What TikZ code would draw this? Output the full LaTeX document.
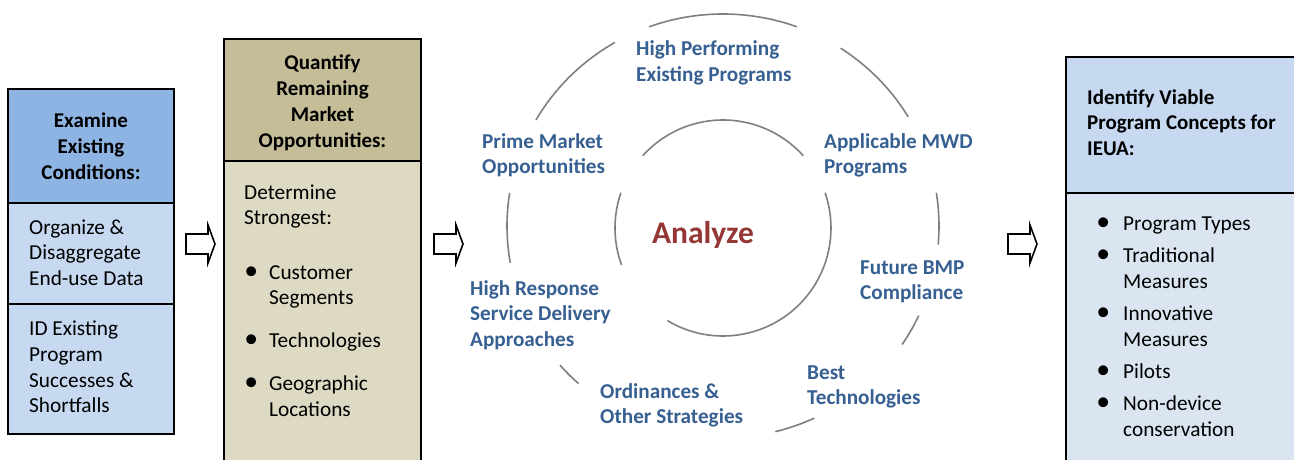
\documentclass[tikz,border=0pt]{standalone}
\usepackage{fontspec}
\setmainfont{Carlito}

\definecolor{hdblue}{HTML}{8DB4E2}
\definecolor{rowblue}{HTML}{C6D9F1}
\definecolor{paleblue}{HTML}{DBE5F1}
\definecolor{hdtan}{HTML}{C4BD97}
\definecolor{bodytan}{HTML}{DDD9C3}
\definecolor{labelblue}{HTML}{376092}
\definecolor{analyzered}{HTML}{953735}
\definecolor{ringgray}{HTML}{7F7F7F}

% stacked lines with a fixed baseline pitch; the node's baseline is the first line's
\newcommand\rows[2][l]{\begin{tabular}[t]{@{}#1@{}}#2\end{tabular}}
\newcommand\bul{\makebox[12pt]{\scalebox{1.3}{\textbullet}}}

\tikzset{
  panel/.style={draw=black, line width=2pt},
  txt/.style={inner sep=0pt, anchor=base west, font=\fontsize{21.3}{25.8}\selectfont},
  ctxt/.style={txt, anchor=base},
  head/.style={font=\fontsize{21}{25.8}\selectfont\bfseries},
  ringlabel/.style={txt, text=labelblue, font=\fontsize{21.2}{25.8}\selectfont\bfseries},
  ring/.style={draw=ringgray, line width=1.6pt},
  arrowshape/.style={draw=black, line width=1.6pt, fill=white, line join=miter},
}

% hollow block arrow; #1 is the middle of its left end
\newcommand\blockarrow[1]{%
  \draw[arrowshape] (#1) ++(0,-10) -- ++(22,0) -- ++(0,-9) -- ++(7,19)
    -- ++(-7,19) -- ++(0,-9) -- ++(-22,0) -- cycle;}

\begin{document}
\begin{tikzpicture}[x=1pt, y=-1pt]
\useasboundingbox (0,0) rectangle (1294,460);
\clip (0,0) rectangle (1294,460);
\fill[white] (0,0) rectangle (1294,460);

% ---- Examine existing conditions ----
\fill[hdblue] (8,89) rectangle (174,203);
\fill[rowblue] (8,203) rectangle (174,434);
\draw[panel] (8,89) rectangle (174,434);
\draw[panel] (8,203) -- (174,203);
\draw[panel] (8,304) -- (174,304);
\node[ctxt, head] (exhead) at (91,127.5)
  {\rows[c]{Examine\\Existing\\Conditions:}};
\node[txt] (exrow1) at (29,234) {\rows{Organize \&\\Disaggregate\\End-use Data}};
\node[txt] (exrow2) at (29,335.5) {\rows{ID Existing\\Program\\Successes \&\\Shortfalls}};

% ---- Quantify remaining market opportunities ----
\fill[hdtan] (224,39) rectangle (421,160.5);
\fill[bodytan] (224,160.5) rectangle (421,480);
\draw[panel] (224,480) -- (224,39) -- (421,39) -- (421,480);
\draw[panel] (224,160.5) -- (421,160.5);
\node[ctxt, head] (qhead) at (322.5,70)
  {\rows[c]{Quantify\\Remaining\\Market\\Opportunities:}};
\node[txt] (qintro) at (244,199) {\rows{Determine\\Strongest:}};
\node[txt] (qlist) at (245,279) {\begin{tabular}[t]{@{}l@{\hspace{12pt}}l@{}}
  \bul & Customer\\ & Segments\\[17.2pt]
  \bul & Technologies\\[17.2pt]
  \bul & Geographic\\ & Locations
\end{tabular}};

% ---- Identify viable program concepts ----
\fill[rowblue] (1066,57) rectangle (1300,193);
\fill[paleblue] (1066,193) rectangle (1300,480);
\draw[panel] (1066,480) -- (1066,57) -- (1300,57);
\draw[panel] (1066,193) -- (1300,193);
\node[txt, head] (idhead) at (1087,104)
  {\rows{Identify Viable\\Program Concepts for\\IEUA:}};
\node[txt] (idlist) at (1097,230) {\begin{tabular}[t]{@{}l@{\hspace{14pt}}l@{}}
  \bul & Program Types\\[6.5pt]
  \bul & Traditional\\ & Measures\\[6.5pt]
  \bul & Innovative\\ & Measures\\[6.5pt]
  \bul & Pilots\\[6.5pt]
  \bul & Non-device\\ & conservation
\end{tabular}};

% ---- step arrows ----
\coordinate (arr1) at (186,244);
\coordinate (arr2) at (434,244);
\coordinate (arr3) at (1008,244);
\blockarrow{arr1}
\blockarrow{arr2}
\blockarrow{arr3}

% ---- analysis rings ----
\coordinate (outer) at (723,226);
\coordinate (inner) at (723,228);
\foreach \a/\b in {70/110, 31/57, -5/9, -34/-25, -76/-65, -139/-132, 171/190, 120/150}
  \draw[ring] (outer) ++(-\a:216 and 212)
    arc[start angle=-\a, end angle=-\b, x radius=216, y radius=212];
\foreach \a/\b in {42/138, -121/19, 161/200}
  \draw[ring] (inner) ++(-\a:108 and 108)
    arc[start angle=-\a, end angle=-\b, radius=108];

\node[inner sep=0pt, anchor=base, text=analyzered,
      font=\fontsize{31.5}{38}\selectfont\bfseries] (analyze) at (703,243) {Analyze};

\node[ringlabel] (lhigh) at (636,56) {\rows{High Performing\\Existing Programs}};
\node[ringlabel] (lprime) at (482,148) {\rows{Prime Market\\Opportunities}};
\node[ringlabel] (lmwd) at (824,148) {\rows{Applicable MWD\\Programs}};
\node[ringlabel] (lbmp) at (860,274) {\rows{Future BMP\\Compliance}};
\node[ringlabel] (lresp) at (470,295) {\rows{High Response\\Service Delivery\\Approaches}};
\node[ringlabel] (lord) at (600,398) {\rows{Ordinances \&\\Other Strategies}};
\node[ringlabel] (lbest) at (807,379) {\rows{Best\\Technologies}};
\end{tikzpicture}
\end{document}
